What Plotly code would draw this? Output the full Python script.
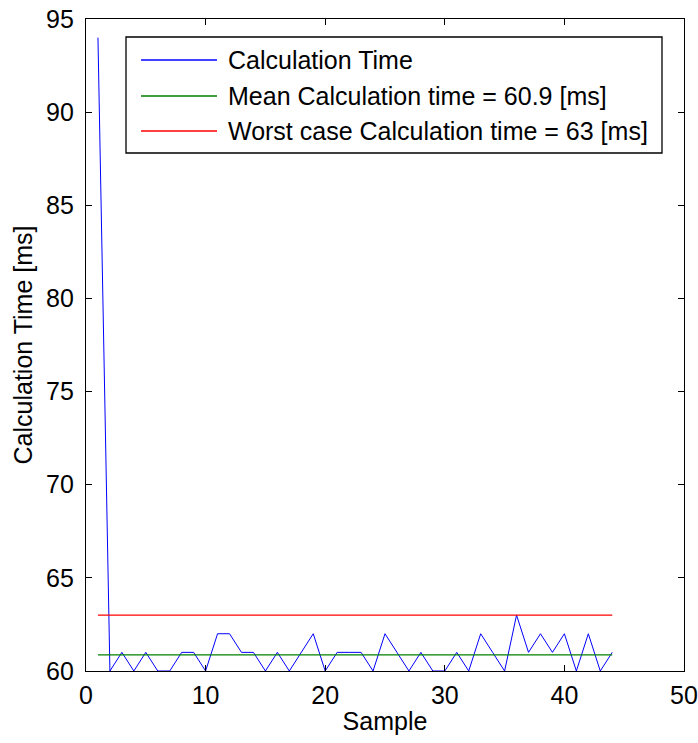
import plotly.graph_objects as go

samples = list(range(1, 45))
calc_time = [94, 60, 61, 60, 61, 60, 60, 61, 61, 60, 62, 62, 61, 61, 60, 61, 60, 61, 62, 60,
             61, 61, 61, 60, 62, 61, 60, 61, 60, 60, 61, 60, 62, 61, 60, 63, 61, 62, 61, 62,
             60, 62, 60, 61]

steady = calc_time[1:]
mean_val = sum(steady) / len(steady)
worst_val = max(steady)

series_names = ["Calculation Time",
                "Mean Calculation time = %.1f [ms]" % mean_val,
                "Worst case Calculation time = %d [ms]" % worst_val]
series_colors = ["#0000ff", "#008000", "#ff0000"]

FONT = "Liberation Sans, Arial, Helvetica"

fig = go.Figure()
fig.add_trace(go.Scatter(x=samples, y=calc_time, mode="lines", name=series_names[0],
                         line=dict(color=series_colors[0], width=1), showlegend=False))
fig.add_trace(go.Scatter(x=[samples[0], samples[-1]], y=[mean_val, mean_val], mode="lines",
                         name=series_names[1], line=dict(color=series_colors[1], width=1.3),
                         showlegend=False))
fig.add_trace(go.Scatter(x=[samples[0], samples[-1]], y=[worst_val, worst_val], mode="lines",
                         name=series_names[2], line=dict(color=series_colors[2], width=1.3),
                         showlegend=False))

# Legend box drawn in paper coordinates (MATLAB-style legend with long line samples)
box_x0, box_x1, box_y0, box_y1 = 0.0669, 0.9632, 0.7945, 0.9724
line_x0, line_x1, text_x = 0.0920, 0.2191, 0.2341
row_y = [0.9371, 0.8819, 0.8282]

shapes = [dict(type="rect", xref="paper", yref="paper", x0=box_x0, x1=box_x1, y0=box_y0, y1=box_y1,
               line=dict(color="black", width=1.3), fillcolor="white", layer="above")]
annotations = []
for name, color, yy in zip(series_names, series_colors, row_y):
    shapes.append(dict(type="line", xref="paper", yref="paper", x0=line_x0, x1=line_x1, y0=yy, y1=yy,
                       line=dict(color=color, width=1.3), layer="above"))
    annotations.append(dict(xref="paper", yref="paper", x=text_x, y=yy, xanchor="left", yanchor="middle",
                            text=name, showarrow=False, font=dict(family=FONT, size=25, color="black")))

axis_common = dict(showgrid=False, zeroline=False, showline=True, linecolor="black", linewidth=1.3,
                   mirror="ticks", ticks="inside", ticklen=6, tickcolor="black", tickwidth=1,
                   automargin=False,
                   tickfont=dict(family=FONT, size=25, color="black"))

fig.update_layout(
    width=698, height=743,
    margin=dict(l=86, r=14, t=19, b=72, autoexpand=False),
    paper_bgcolor="white", plot_bgcolor="white",
    font=dict(family=FONT, size=25, color="black"),
    xaxis=dict(range=[0, 50], dtick=10, tick0=0, ticklabelstandoff=2,
               title=dict(text="Sample", font=dict(size=25), standoff=4), **axis_common),
    yaxis=dict(range=[60, 95], dtick=5, tick0=60, ticklabelstandoff=6,
               title=dict(text="Calculation Time [ms]", font=dict(size=25), standoff=6), **axis_common),
    shapes=shapes,
    annotations=annotations,
    showlegend=False,
)

fig.write_html("out.html")
